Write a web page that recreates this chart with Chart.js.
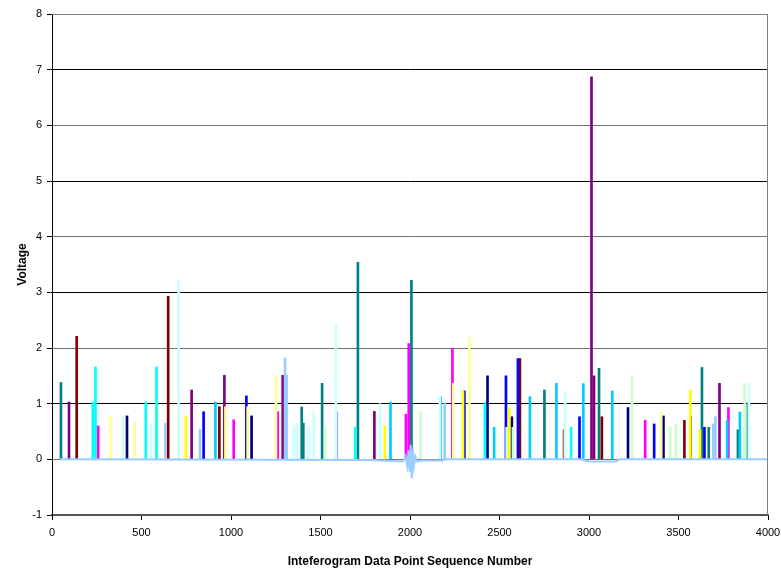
<!DOCTYPE html>
<html>
<head>
<meta charset="utf-8">
<script src="https://cdn.jsdelivr.net/npm/chart.js@4.4.1/dist/chart.umd.min.js"></script>
<style>
  html, body { margin: 0; padding: 0; background: #fff; }
  #wrap { width: 781px; height: 573px; position: relative; }
</style>
</head>
<body>
<div id="wrap"><canvas id="c"></canvas></div>
<script>
// ---- data: spike positions (sequence number) and heights (volts), grouped by colour ----
const tealX = [50, 1395, 1404, 1509, 1709, 2008, 2751, 3056, 3631, 3669, 3832, 3888];
const tealY = [1.38, 0.94, 0.65, 1.365, 3.54, 3.215, 1.245, 1.635, 1.65, 0.575, 0.53, 1.02];
const purpleX = [95, 780, 963, 1289, 1801, 3014, 3028, 3568, 3729];
const purpleY = [1.03, 1.245, 1.51, 1.51, 0.86, 6.87, 1.5, 0.78, 1.365];
const darkRedX = [138, 649, 935, 2614, 3072, 3533];
const darkRedY = [2.21, 2.93, 0.945, 1.81, 0.765, 0.7];
const cyanX = [228, 243, 524, 584, 1694, 2418, 2900];
const cyanY = [1.03, 1.66, 1.03, 1.66, 0.58, 1.02, 0.575];
const magentaX = [258, 1015, 1261, 1977, 1993, 2237, 3314, 3779];
const magentaY = [0.6, 0.71, 0.855, 0.81, 2.08, 1.99, 0.7, 0.93];
const lightYellowX = [327, 462, 969, 1093, 1251, 2242, 2332, 3403];
const lightYellowY = [0.78, 0.66, 0.945, 0.945, 1.51, 1.365, 2.19, 0.85];
const lightCyanX = [395, 554, 707, 1352, 1367, 1434, 1462, 1586, 1833, 2167, 2867, 3893];
const lightCyanY = [0.78, 0.65, 3.22, 0.6, 0.65, 0.6, 0.86, 2.43, 1.0, 1.12, 1.23, 1.365];
const blueX = [847, 1086, 2304, 2536, 2603, 2947, 3364, 3645];
const blueY = [0.855, 1.14, 1.23, 1.5, 1.81, 0.765, 0.635, 0.575];
const navyX = [419, 1115, 2433, 2569, 3218, 3416];
const navyY = [0.78, 0.78, 1.5, 0.765, 0.93, 0.78];
const lightBlueX = [634, 827, 1302, 1311, 2194, 3695, 3706];
const lightBlueY = [0.65, 0.54, 1.82, 1.51, 1.02, 0.635, 0.765];
const skyBlueX = [913, 1891, 2171, 2470, 2670, 2818, 2968, 3130, 3772, 3843];
const skyBlueY = [1.03, 1.03, 1.125, 0.575, 1.125, 1.365, 1.36, 1.23, 0.7, 0.85];
const yellowX = [748, 1859, 2296, 2554, 3566, 3620];
const yellowY = [0.78, 0.6, 1.23, 0.93, 1.245, 0.53];
const lightGreenX = [1526, 2059, 2540, 2575, 3241, 3454, 3486, 3869];
const lightGreenY = [0.58, 0.86, 0.575, 0.575, 1.5, 0.575, 0.635, 1.365];
const periwinkleX = [1591];
const periwinkleY = [0.855];
const roseX = [2860];
const roseY = [0.53];

// baseline trace (interferogram away from the spikes), with the centre burst near 2000
const baseX = [45, 1780, 1900, 1960, 1975, 1985, 1992, 1998, 2004, 2010, 2016, 2022, 2030, 2040, 2060, 2180, 2200, 2950, 3000, 3150, 3170, 4000];
const baseY = [0, -0.01, -0.03, -0.04, 0.06, -0.12, 0.16, -0.22, 0.26, -0.34, 0.18, -0.12, 0.05, -0.04, -0.02, -0.02, 0, 0, -0.04, -0.04, 0, 0];

const yTicks = [-1, 0, 1, 2, 3, 4, 5, 6, 7, 8];
const xTicks = [0, 500, 1000, 1500, 2000, 2500, 3000, 3500, 4000];

function pts(xs, ys) { return xs.map((x, i) => ({ x: x, y: ys[i] })); }

const groups = [
  [lightCyanX, lightCyanY, '#CCFFFF'],
  [lightYellowX, lightYellowY, '#FFFF99'],
  [lightGreenX, lightGreenY, '#CCFFCC'],
  [lightBlueX, lightBlueY, '#99CCFF'],
  [cyanX, cyanY, '#00FFFF'],
  [skyBlueX, skyBlueY, '#00CCFF'],
  [yellowX, yellowY, '#FFFF00'],
  [magentaX, magentaY, '#FF00FF'],
  [periwinkleX, periwinkleY, '#9999FF'],
  [roseX, roseY, '#996666'],
  [blueX, blueY, '#0000FF'],
  [navyX, navyY, '#000080'],
  [purpleX, purpleY, '#800080'],
  [darkRedX, darkRedY, '#800000'],
  [tealX, tealY, '#008080']
];

const datasets = groups.map((g, i) => ({
  type: 'bar',
  data: pts(g[0], g[1]),
  backgroundColor: g[2],
  borderWidth: 0,
  barThickness: 2,
  grouped: false,
  order: 1 + i
}));
datasets.push({
  type: 'line',
  data: pts(baseX, baseY),
  borderColor: '#99CCFF',
  borderWidth: 2,
  pointRadius: 0,
  tension: 0,
  order: 0
});

const frame = {
  id: 'frame',
  afterDatasetsDraw(chart) {
    const a = chart.chartArea, ctx = chart.ctx;
    ctx.save();
    ctx.strokeStyle = '#808080';
    ctx.lineWidth = 1;
    ctx.beginPath();
    ctx.moveTo(a.left, a.top + 0.5);
    ctx.lineTo(a.right - 0.5, a.top + 0.5);
    ctx.lineTo(a.right - 0.5, a.bottom);
    ctx.stroke();
    ctx.restore();
  }
};

const tickFont = { family: 'Liberation Sans, Arial', size: 11 };

new Chart(document.getElementById('c'), {
  type: 'bar',
  data: { datasets: datasets },
  options: {
    responsive: true,
    maintainAspectRatio: false,
    animation: false,
    layout: { padding: { top: 14, right: 13, left: 0, bottom: 0 } },
    plugins: { legend: { display: false }, tooltip: { enabled: false } },
    scales: {
      x: {
        type: 'linear',
        min: 0, max: 4000,
        offset: false,
        afterBuildTicks: (s) => { s.ticks = xTicks.map(v => ({ value: v })); },
        ticks: { color: '#000', font: tickFont, maxRotation: 0, padding: 6, callback: (v) => String(v) },
        grid: { offset: false, drawOnChartArea: false, color: '#000', tickLength: 5, tickColor: '#000' },
        border: { color: '#555', width: 2 },
        title: { display: true, text: 'Inteferogram Data Point Sequence Number', color: '#000',
                 font: { family: 'Liberation Sans, Arial', size: 12, weight: 'bold' }, padding: { top: 10 } },
        afterFit: (s) => { s.height = 58; s.paddingRight = 0; s.paddingLeft = 0; }
      },
      y: {
        type: 'linear',
        min: -1, max: 8,
        afterBuildTicks: (s) => { s.ticks = yTicks.map(v => ({ value: v })); },
        ticks: { color: '#000', font: tickFont, padding: 5, callback: (v) => String(v) },
        grid: {
          color: (c) => (c.tick && (c.tick.value % 2 !== 0) ? '#000' : '#707070'),
          tickColor: '#000', tickLength: 5, lineWidth: 1
        },
        border: { color: '#000', width: 1 },
        title: { display: true, text: 'Voltage', color: '#000',
                 font: { family: 'Liberation Sans, Arial', size: 12, weight: 'bold' }, padding: { top: 15, bottom: 0 } },
        afterFit: (s) => { s.width = 52; s.paddingTop = 0; s.paddingBottom = 0; }
      }
    }
  },
  plugins: [frame]
});
</script>
</body>
</html>
